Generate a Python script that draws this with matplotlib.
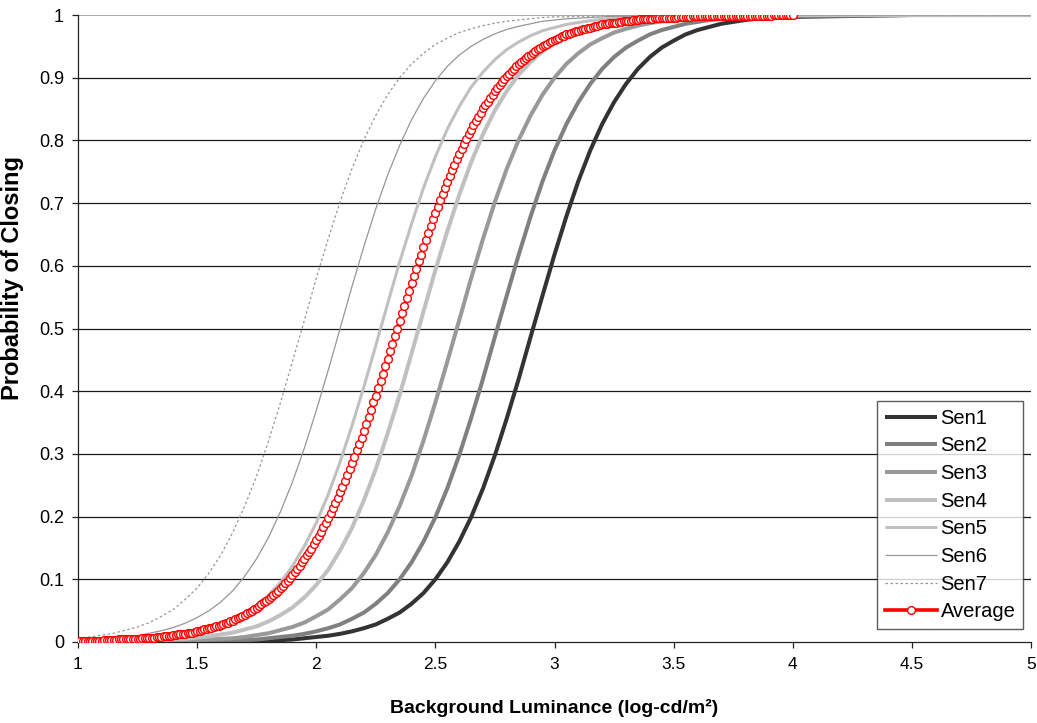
import numpy as np
import matplotlib
matplotlib.use("Agg")
import matplotlib.pyplot as plt

plt.rcParams['font.family'] = ['Liberation Sans', 'DejaVu Sans']

# ---- data ----
# common x grid for the individual sensor curves (log-cd/m2)
sen_x = [1.00, 1.05, 1.10, 1.15, 1.20, 1.25, 1.30, 1.35, 1.40, 1.45,
         1.50, 1.55, 1.60, 1.65, 1.70, 1.75, 1.80, 1.85, 1.90, 1.95,
         2.00, 2.05, 2.10, 2.15, 2.20, 2.25, 2.30, 2.35, 2.40, 2.45,
         2.50, 2.55, 2.60, 2.65, 2.70, 2.75, 2.80, 2.85, 2.90, 2.95,
         3.00, 3.05, 3.10, 3.15, 3.20, 3.25, 3.30, 3.35, 3.40, 3.45,
         3.50, 3.55, 3.60, 3.65, 3.70, 3.75, 3.80, 3.85, 3.90, 3.95,
         4.00, 4.50, 5.00]

sen1 = [0.000, 0.000, 0.000, 0.000, 0.000, 0.000, 0.000, 0.000, 0.000, 0.000,
        0.001, 0.001, 0.001, 0.001, 0.002, 0.002, 0.003, 0.003, 0.004, 0.006,
        0.008, 0.010, 0.013, 0.017, 0.022, 0.028, 0.037, 0.047, 0.061, 0.078,
        0.100, 0.127, 0.160, 0.199, 0.245, 0.298, 0.357, 0.420, 0.487, 0.553,
        0.618, 0.679, 0.735, 0.784, 0.826, 0.861, 0.890, 0.914, 0.933, 0.948,
        0.959, 0.969, 0.976, 0.981, 0.986, 0.989, 0.992, 0.994, 0.995, 0.996,
        0.997, 1.000, 1.000]
sen2 = [0.000, 0.000, 0.000, 0.000, 0.000, 0.000, 0.000, 0.001, 0.001, 0.001,
        0.001, 0.002, 0.002, 0.003, 0.003, 0.004, 0.006, 0.008, 0.010, 0.013,
        0.017, 0.022, 0.028, 0.037, 0.047, 0.061, 0.078, 0.100, 0.127, 0.160,
        0.199, 0.245, 0.298, 0.357, 0.420, 0.487, 0.553, 0.618, 0.679, 0.735,
        0.784, 0.826, 0.861, 0.890, 0.914, 0.933, 0.948, 0.959, 0.969, 0.976,
        0.981, 0.986, 0.989, 0.992, 0.994, 0.995, 0.996, 0.997, 0.998, 0.998,
        0.999, 1.000, 1.000]
sen3 = [0.000, 0.000, 0.000, 0.000, 0.001, 0.001, 0.001, 0.001, 0.002, 0.002,
        0.003, 0.004, 0.005, 0.006, 0.008, 0.011, 0.014, 0.019, 0.024, 0.031,
        0.041, 0.052, 0.068, 0.086, 0.110, 0.139, 0.175, 0.217, 0.265, 0.321,
        0.382, 0.447, 0.513, 0.580, 0.643, 0.702, 0.755, 0.801, 0.840, 0.873,
        0.900, 0.922, 0.939, 0.953, 0.963, 0.972, 0.978, 0.983, 0.987, 0.990,
        0.992, 0.994, 0.996, 0.997, 0.997, 0.998, 0.998, 0.999, 0.999, 0.999,
        0.999, 1.000, 1.000]
sen4 = [0.000, 0.001, 0.001, 0.001, 0.001, 0.002, 0.002, 0.003, 0.004, 0.005,
        0.007, 0.009, 0.012, 0.015, 0.020, 0.025, 0.033, 0.043, 0.055, 0.071,
        0.091, 0.115, 0.146, 0.182, 0.226, 0.276, 0.333, 0.394, 0.460, 0.527,
        0.593, 0.655, 0.713, 0.765, 0.810, 0.848, 0.879, 0.905, 0.925, 0.942,
        0.955, 0.965, 0.973, 0.979, 0.984, 0.988, 0.991, 0.993, 0.995, 0.996,
        0.997, 0.998, 0.998, 0.999, 0.999, 0.999, 0.999, 1.000, 1.000, 1.000,
        1.000, 1.000, 1.000]
sen5 = [0.001, 0.001, 0.002, 0.002, 0.003, 0.004, 0.006, 0.007, 0.009, 0.012,
        0.016, 0.021, 0.027, 0.035, 0.045, 0.058, 0.075, 0.095, 0.121, 0.153,
        0.190, 0.235, 0.287, 0.345, 0.407, 0.473, 0.540, 0.606, 0.667, 0.724,
        0.774, 0.818, 0.854, 0.885, 0.909, 0.929, 0.945, 0.957, 0.967, 0.975,
        0.980, 0.985, 0.988, 0.991, 0.993, 0.995, 0.996, 0.997, 0.998, 0.998,
        0.999, 0.999, 0.999, 0.999, 1.000, 1.000, 1.000, 1.000, 1.000, 1.000,
        1.000, 1.000, 1.000]
sen6 = [0.003, 0.004, 0.005, 0.006, 0.008, 0.010, 0.014, 0.018, 0.023, 0.030,
        0.039, 0.050, 0.064, 0.082, 0.105, 0.133, 0.167, 0.208, 0.255, 0.309,
        0.369, 0.433, 0.500, 0.567, 0.631, 0.691, 0.745, 0.792, 0.833, 0.867,
        0.895, 0.918, 0.936, 0.950, 0.961, 0.970, 0.977, 0.982, 0.986, 0.990,
        0.992, 0.994, 0.995, 0.996, 0.997, 0.998, 0.998, 0.999, 0.999, 0.999,
        0.999, 1.000, 1.000, 1.000, 1.000, 1.000, 1.000, 1.000, 1.000, 1.000,
        1.000, 1.000, 1.000]
sen7 = [0.006, 0.008, 0.011, 0.014, 0.019, 0.024, 0.031, 0.041, 0.052, 0.068,
        0.086, 0.110, 0.139, 0.175, 0.217, 0.265, 0.321, 0.382, 0.447, 0.513,
        0.580, 0.643, 0.702, 0.755, 0.801, 0.840, 0.873, 0.900, 0.922, 0.939,
        0.953, 0.963, 0.972, 0.978, 0.983, 0.987, 0.990, 0.992, 0.994, 0.996,
        0.997, 0.997, 0.998, 0.998, 0.999, 0.999, 0.999, 0.999, 1.000, 1.000,
        1.000, 1.000, 1.000, 1.000, 1.000, 1.000, 1.000, 1.000, 1.000, 1.000,
        1.000, 1.000, 1.000]

# average curve, one point every 0.01 from 1.00 to 4.00
avg_x = np.round(np.arange(100, 401) / 100.0, 2)
avg_y = [
    0.002, 0.002, 0.002, 0.002, 0.002, 0.002, 0.002, 0.002, 0.002, 0.002,  # 1.00
    0.002, 0.003, 0.003, 0.003, 0.003, 0.003, 0.003, 0.004, 0.004, 0.004,  # 1.10
    0.004, 0.004, 0.004, 0.005, 0.005, 0.005, 0.005, 0.006, 0.006, 0.006,  # 1.20
    0.007, 0.007, 0.007, 0.008, 0.008, 0.008, 0.009, 0.009, 0.010, 0.010,  # 1.30
    0.011, 0.011, 0.012, 0.012, 0.013, 0.013, 0.014, 0.015, 0.015, 0.016,  # 1.40
    0.017, 0.018, 0.019, 0.020, 0.021, 0.022, 0.023, 0.024, 0.025, 0.026,  # 1.50
    0.027, 0.029, 0.030, 0.031, 0.033, 0.034, 0.036, 0.038, 0.040, 0.042,  # 1.60
    0.043, 0.046, 0.048, 0.050, 0.052, 0.055, 0.057, 0.060, 0.063, 0.066,  # 1.70
    0.069, 0.072, 0.075, 0.078, 0.082, 0.086, 0.090, 0.094, 0.098, 0.102,  # 1.80
    0.107, 0.111, 0.116, 0.121, 0.127, 0.132, 0.138, 0.143, 0.149, 0.156,  # 1.90
    0.162, 0.169, 0.176, 0.183, 0.190, 0.198, 0.205, 0.213, 0.222, 0.230,  # 2.00
    0.239, 0.248, 0.257, 0.266, 0.276, 0.285, 0.295, 0.306, 0.316, 0.326,  # 2.10
    0.337, 0.348, 0.359, 0.370, 0.382, 0.393, 0.405, 0.416, 0.428, 0.440,  # 2.20
    0.452, 0.464, 0.476, 0.488, 0.500, 0.512, 0.524, 0.536, 0.548, 0.560,  # 2.30
    0.572, 0.584, 0.595, 0.607, 0.618, 0.630, 0.641, 0.652, 0.663, 0.674,  # 2.40
    0.684, 0.694, 0.705, 0.715, 0.724, 0.734, 0.743, 0.752, 0.761, 0.770,  # 2.50
    0.778, 0.787, 0.795, 0.802, 0.810, 0.817, 0.824, 0.831, 0.838, 0.844,  # 2.60
    0.851, 0.857, 0.862, 0.868, 0.873, 0.879, 0.884, 0.889, 0.893, 0.898,  # 2.70
    0.902, 0.906, 0.910, 0.914, 0.918, 0.922, 0.925, 0.928, 0.931, 0.934,  # 2.80
    0.937, 0.940, 0.943, 0.945, 0.948, 0.950, 0.952, 0.954, 0.957, 0.958,  # 2.90
    0.960, 0.962, 0.964, 0.966, 0.967, 0.969, 0.970, 0.971, 0.973, 0.974,  # 3.00
    0.975, 0.976, 0.977, 0.978, 0.979, 0.980, 0.981, 0.982, 0.983, 0.984,  # 3.10
    0.985, 0.985, 0.986, 0.987, 0.987, 0.988, 0.988, 0.989, 0.989, 0.990,  # 3.20
    0.990, 0.991, 0.991, 0.992, 0.992, 0.992, 0.993, 0.993, 0.993, 0.994,  # 3.30
    0.994, 0.994, 0.995, 0.995, 0.995, 0.995, 0.996, 0.996, 0.996, 0.996,  # 3.40
    0.996, 0.996, 0.997, 0.997, 0.997, 0.997, 0.997, 0.997, 0.998, 0.998,  # 3.50
    0.998, 0.998, 0.998, 0.998, 0.998, 0.998, 0.998, 0.998, 0.998, 0.999,  # 3.60
    0.999, 0.999, 0.999, 0.999, 0.999, 0.999, 0.999, 0.999, 0.999, 0.999,  # 3.70
    0.999, 0.999, 0.999, 0.999, 0.999, 0.999, 0.999, 0.999, 0.999, 0.999,  # 3.80
    0.999, 0.999, 1.000, 1.000, 1.000, 1.000, 1.000, 1.000, 1.000, 1.000,  # 3.90
    1.000,                                                                  # 4.00
]

series_names = ['Sen1', 'Sen2', 'Sen3', 'Sen4', 'Sen5', 'Sen6', 'Sen7']
x_ticks = [1, 1.5, 2, 2.5, 3, 3.5, 4, 4.5, 5]
x_tick_labels = ['1', '1.5', '2', '2.5', '3', '3.5', '4', '4.5', '5']
y_ticks = [0, 0.1, 0.2, 0.3, 0.4, 0.5, 0.6, 0.7, 0.8, 0.9, 1.0]
y_tick_labels = ['0', '0.1', '0.2', '0.3', '0.4', '0.5', '0.6', '0.7', '0.8', '0.9', '1']

# ---- figure ----
W, H = 1037, 723
fig = plt.figure(figsize=(W / 100, H / 100), dpi=100)
L, R, T, B = 78, 1031, 15, 642
ax = fig.add_axes([L / W, 1 - B / H, (R - L) / W, (B - T) / H])

ax.set_xlim(1, 5)
ax.set_ylim(0, 1)

# horizontal grid lines
for yv in y_ticks[1:-1]:
    ax.axhline(yv, color='#1a1a1a', lw=0.9, zorder=0.5)
ax.axhline(1.0, color='#9a9a9a', lw=1.2, zorder=0.5)

styles = [
    dict(color='#333333', lw=2.9, ls='-'),
    dict(color='#808080', lw=2.9, ls='-'),
    dict(color='#999999', lw=2.9, ls='-'),
    dict(color='#c0c0c0', lw=2.9, ls='-'),
    dict(color='#c0c0c0', lw=2.2, ls='-'),
    dict(color='#969696', lw=0.9, ls='-'),
    dict(color='#969696', lw=0.9, ls=(0, (2.0, 2.0))),
]
series = [sen1, sen2, sen3, sen4, sen5, sen6, sen7]
for name, ys, st in zip(series_names, series, styles):
    ax.plot(sen_x, ys, label=name, solid_capstyle='butt', zorder=2, **st)

ax.plot(avg_x, avg_y, color='red', lw=2.6, marker='o', markersize=5.6,
        markerfacecolor='white', markeredgecolor='red', markeredgewidth=1.0,
        label='Average', zorder=3)

# spines
for s in ['top', 'right']:
    ax.spines[s].set_visible(False)
ax.spines['left'].set_color('#222222')
ax.spines['bottom'].set_color('#222222')
ax.spines['left'].set_linewidth(0.9)
ax.spines['bottom'].set_linewidth(0.9)

ax.set_xticks(x_ticks)
ax.set_xticklabels(x_tick_labels)
ax.set_yticks(y_ticks)
ax.set_yticklabels(y_tick_labels)
ax.tick_params(axis='both', direction='out', length=4, width=0.9,
               color='#222222', labelcolor='black')
ax.tick_params(axis='x', pad=7, labelsize=12.5)
ax.tick_params(axis='y', pad=6, labelsize=13)

ax.set_xlabel('Background Luminance (log-cd/m²)', fontsize=14,
              fontweight='bold', labelpad=19)
ax.set_ylabel('Probability of Closing', fontsize=17, fontweight='bold')
ax.yaxis.set_label_coords(-0.0567, 0.58)

leg = ax.legend(loc='lower right', bbox_to_anchor=(0.9916, 0.0207),
                borderaxespad=0, fontsize=14.5, frameon=True, fancybox=False,
                edgecolor='#333333', handlelength=2.6, handletextpad=0.15,
                labelspacing=0.43, borderpad=0.38, markerscale=1.0)
leg.get_frame().set_linewidth(1.0)

fig.savefig('out.png', dpi=100)
